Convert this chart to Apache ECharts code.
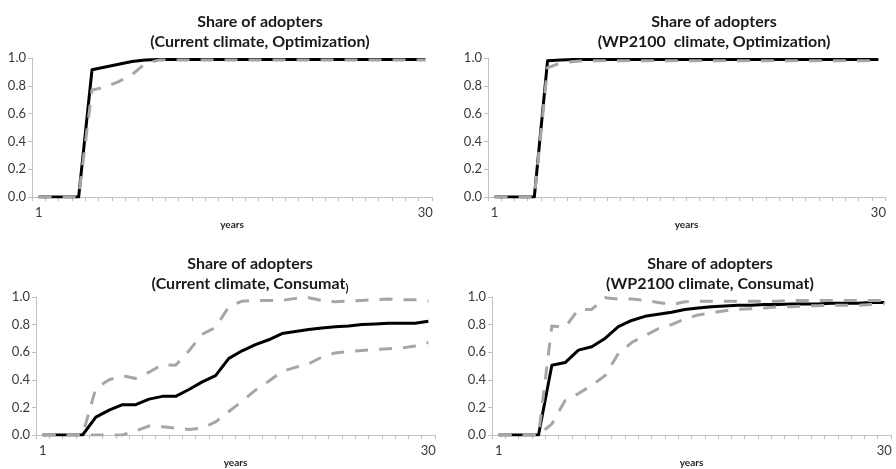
<!DOCTYPE html>
<html>
<head>
<meta charset="utf-8">
<script src="https://cdn.jsdelivr.net/npm/echarts@6/dist/echarts.min.js"></script>
<style>
  html, body { margin: 0; padding: 0; background: #ffffff; }
  #chart { width: 896px; height: 469px; }
</style>
</head>
<body>
<div id="chart"></div>
<script>
// Simulation years (category axis)
const years = ['1','2','3','4','5','6','7','8','9','10','11','12','13','14','15',
               '16','17','18','19','20','21','22','23','24','25','26','27','28','29','30'];

// Y axis tick values
const shareTicks = [0, 0.2, 0.4, 0.6, 0.8, 1.0];

// Current climate, Optimization
const curOptMean = [0, 0, 0, 0, 0.915, 0.935, 0.955, 0.975, 0.985, 0.99,
                    0.99, 0.99, 0.99, 0.99, 0.99, 0.99, 0.99, 0.99, 0.99, 0.99,
                    0.99, 0.99, 0.99, 0.99, 0.99, 0.99, 0.99, 0.99, 0.99, 0.99];
const curOptBound = [0, 0, 0, 0, 0.77, 0.79, 0.83, 0.88, 0.96, 0.985,
                     0.985, 0.985, 0.985, 0.985, 0.985, 0.985, 0.985, 0.985, 0.985, 0.985,
                     0.985, 0.985, 0.985, 0.985, 0.985, 0.985, 0.985, 0.985, 0.985, 0.985];

// WP2100 climate, Optimization
const wpOptMean = [0, 0, 0, 0, 0.98, 0.985, 0.99, 0.99, 0.99, 0.99,
                   0.99, 0.99, 0.99, 0.99, 0.99, 0.99, 0.99, 0.99, 0.99, 0.99,
                   0.99, 0.99, 0.99, 0.99, 0.99, 0.99, 0.99, 0.99, 0.99, 0.99];
const wpOptBound = [0, 0, 0, 0, 0.93, 0.965, 0.975, 0.98, 0.98, 0.98,
                    0.98, 0.98, 0.98, 0.98, 0.98, 0.98, 0.98, 0.98, 0.98, 0.98,
                    0.98, 0.98, 0.98, 0.98, 0.98, 0.98, 0.98, 0.98, 0.98, 0.98];

// Current climate, Consumat
const curConMean = [0, 0, 0, 0, 0.13, 0.18, 0.22, 0.22, 0.26, 0.28,
                    0.28, 0.33, 0.385, 0.43, 0.555, 0.61, 0.655, 0.69, 0.735, 0.75,
                    0.765, 0.775, 0.785, 0.79, 0.80, 0.805, 0.81, 0.81, 0.81, 0.825];
const curConUpper = [0, 0, 0, 0, 0.34, 0.40, 0.43, 0.41, 0.455, 0.51,
                     0.505, 0.61, 0.73, 0.78, 0.93, 0.97, 0.975, 0.975, 0.975, 0.99,
                     0.995, 0.975, 0.965, 0.97, 0.975, 0.98, 0.985, 0.98, 0.98, 0.97];
const curConLower = [0, 0, 0, 0, 0, 0, 0, 0.03, 0.065, 0.06,
                     0.05, 0.04, 0.05, 0.095, 0.17, 0.245, 0.325, 0.39, 0.46, 0.49,
                     0.515, 0.565, 0.595, 0.605, 0.612, 0.62, 0.625, 0.63, 0.645, 0.67];

// WP2100 climate, Consumat
const wpConMean = [0, 0, 0, 0, 0.505, 0.525, 0.615, 0.64, 0.70, 0.785,
                   0.83, 0.86, 0.875, 0.89, 0.91, 0.92, 0.93, 0.935, 0.94, 0.94,
                   0.945, 0.945, 0.95, 0.95, 0.95, 0.955, 0.955, 0.955, 0.96, 0.96];
const wpConUpper = [0, 0, 0, 0, 0.79, 0.78, 0.91, 0.91, 0.995, 0.985,
                    0.985, 0.975, 0.96, 0.945, 0.965, 0.97, 0.97, 0.97, 0.97, 0.97,
                    0.97, 0.97, 0.975, 0.975, 0.975, 0.975, 0.975, 0.975, 0.975, 0.975];
const wpConLower = [0, 0, 0, 0, 0.08, 0.25, 0.30, 0.36, 0.43, 0.59,
                    0.67, 0.72, 0.77, 0.80, 0.84, 0.87, 0.885, 0.90, 0.91, 0.915,
                    0.92, 0.928, 0.93, 0.935, 0.937, 0.94, 0.94, 0.94, 0.945, 0.95];

const FONT = 'Lato, "Open Sans", sans-serif';
const AXIS_GREY = '#c0c0c0';
const LABEL_GREY = '#3a3a3a';
const BAND_GREY = '#a6a6a6';

// Panel layout: plot rectangles and title centres
const panels = [
  { grid: { left: 32,  top: 58,  width: 400, height: 139 }, titleX: 255, titleTop: 7,
    title: '{b|Share of adopters}\n{b|(Current climate, Optimization)}',
    mean: curOptMean, bounds: [curOptBound] },
  { grid: { left: 488, top: 58,  width: 397, height: 139 }, titleX: 709, titleTop: 7,
    title: '{b|Share of adopters}\n{b|(WP2100  climate, Optimization)}',
    mean: wpOptMean, bounds: [wpOptBound] },
  { grid: { left: 36,  top: 297, width: 399, height: 139 }, titleX: 245, titleTop: 249,
    title: '{b|Share of adopters}\n{b|(Current climate, Consumat}{s|)}',
    mean: curConMean, bounds: [curConUpper, curConLower] },
  { grid: { left: 492, top: 297, width: 399, height: 139 }, titleX: 705, titleTop: 249,
    title: '{b|Share of adopters}\n{b|(WP2100 climate, Consumat)}',
    mean: wpConMean, bounds: [wpConUpper, wpConLower] }
];

const option = {
  animation: false,
  backgroundColor: '#ffffff',
  textStyle: { fontFamily: FONT },
  title: panels.map(p => ({
    text: p.title,
    left: p.titleX,
    top: p.titleTop,
    textAlign: 'center',
    textStyle: {
      rich: {
        b: { fontFamily: FONT, fontWeight: 'bold', fontSize: 16, color: '#1a1a1a', lineHeight: 20 },
        s: { fontFamily: FONT, fontWeight: 'bold', fontSize: 11, color: '#1a1a1a', lineHeight: 20,
             verticalAlign: 'bottom' }
      }
    }
  })),
  grid: panels.map(p => Object.assign({ containLabel: false }, p.grid)),
  xAxis: panels.map((p, i) => ({
    type: 'category',
    gridIndex: i,
    data: years,
    boundaryGap: true,
    axisLine: { lineStyle: { color: AXIS_GREY, width: 1 } },
    axisTick: { show: true, interval: 0, length: 4, lineStyle: { color: AXIS_GREY } },
    axisLabel: {
      interval: idx => idx === 0 || idx === years.length - 1,
      color: LABEL_GREY, fontSize: 13, fontFamily: FONT, margin: 9
    },
    splitLine: { show: false },
    name: 'years',
    nameLocation: 'middle',
    nameGap: 23,
    nameTextStyle: { fontFamily: FONT, fontWeight: 'bold', fontSize: 10, color: '#262626' }
  })),
  yAxis: panels.map((p, i) => ({
    type: 'value',
    gridIndex: i,
    min: shareTicks[0],
    max: shareTicks[shareTicks.length - 1],
    interval: 0.2,
    axisLine: { show: true, lineStyle: { color: AXIS_GREY, width: 1 } },
    axisTick: { show: true, length: 4, lineStyle: { color: AXIS_GREY } },
    axisLabel: { formatter: v => v.toFixed(1), color: LABEL_GREY, fontSize: 13, fontFamily: FONT, margin: 6 },
    splitLine: { show: false }
  })),
  series: panels.flatMap((p, i) => [
    {
      type: 'line', xAxisIndex: i, yAxisIndex: i, data: p.mean,
      symbol: 'none', z: 2,
      lineStyle: { color: '#000000', width: 3, join: 'round' }
    }
  ].concat(p.bounds.map(b => ({
    type: 'line', xAxisIndex: i, yAxisIndex: i, data: b,
    symbol: 'none', z: 3,
    lineStyle: { color: BAND_GREY, width: 3, type: [13, 11], cap: 'butt', join: 'round' }
  }))))
};

const chart = echarts.init(document.getElementById('chart'), null, { renderer: 'canvas' });
chart.setOption(option);
</script>
</body>
</html>
